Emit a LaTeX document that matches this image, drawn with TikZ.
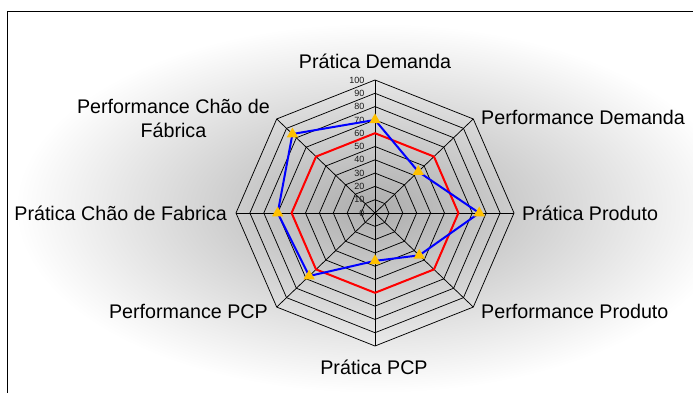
\documentclass[tikz,border=0pt]{standalone}
\usepackage{fontspec}
\setmainfont{Liberation Sans}
\usetikzlibrary{shapes.geometric}
\definecolor{ouro}{RGB}{255,192,0}
\begin{document}
\begin{tikzpicture}[x=1pt,y=1pt,
    rotulo/.style={font=\fontsize{19.7}{24}\selectfont,inner sep=0pt},
    escala/.style={font=\fontsize{9}{10}\selectfont,inner sep=0pt,anchor=east,text=black!90},
    grade/.style={line width=0.75pt},
    serie/.style={line width=2pt,line join=round},
    marca/.style={regular polygon,regular polygon sides=3,fill=ouro,inner sep=0pt,minimum size=13pt}]
  \useasboundingbox (-375,-179) rectangle (318,213);
  \clip (-375,-179) rectangle (318,213);
  \fill[white] (-375,-179) rectangle (318,213);
  \shade[inner color=black!32,outer color=white] (0,5) ellipse (360 and 185);
  \draw[line width=1pt] (-367,-200) |- (340,202);
  \begin{scope}[x=1.39pt,y=1.33pt]
    % teia
    \foreach \r in {10,20,...,100}
      \draw[grade] (90:\r) -- (45:\r) -- (0:\r) -- (-45:\r) -- (-90:\r) -- (-135:\r) -- (180:\r) -- (135:\r) -- cycle;
    \coordinate (c) at (0,0);
    \foreach \a [count=\i] in {90,45,0,-45,-90,-135,180,135}{
      \coordinate (e\i) at (\a:100);
      \draw[grade] (c) -- (e\i);
    }
    \foreach \r in {0,10,...,100}
      \node[escala] (t\r) at (-7.5,\r) {\r};
    % series
    \foreach \a [count=\i] in {90,45,0,-45,-90,-135,180,135}
      \coordinate (m\i) at (\a:60);
    \draw[serie,red] (m1) -- (m2) -- (m3) -- (m4) -- (m5) -- (m6) -- (m7) -- (m8) -- cycle;
    \foreach \a/\v [count=\i] in {90/70,45/44,0/75,-45/45,-90/36,-135/67,180/70,135/84}
      \coordinate (b\i) at (\a:\v);
    \draw[serie,blue] (b1) -- (b2) -- (b3) -- (b4) -- (b5) -- (b6) -- (b7) -- (b8) -- cycle;
    \foreach \i in {1,...,8}
      \node[marca] (p\i) at (b\i) {};
  \end{scope}
  % rotulos dos eixos
  \node[rotulo,anchor=base] (l1) at (0,145) {Prática Demanda};
  \node[rotulo,anchor=base west] (l2) at (106,89) {Performance Demanda};
  \node[rotulo,anchor=base west] (l3) at (147,-7) {Prática Produto};
  \node[rotulo,anchor=base west] (l4) at (106,-105) {Performance Produto};
  \node[rotulo,anchor=base] (l5) at (-1,-161) {Prática PCP};
  \node[rotulo,anchor=base east] (l6) at (-107,-105) {Performance PCP};
  \node[rotulo,anchor=base east] (l7) at (-148,-7) {Prática Chão de Fabrica};
  \node[rotulo,anchor=east,align=center] (l8) at (-105,95) {Performance Chão de\\Fábrica};
\end{tikzpicture}
\end{document}
